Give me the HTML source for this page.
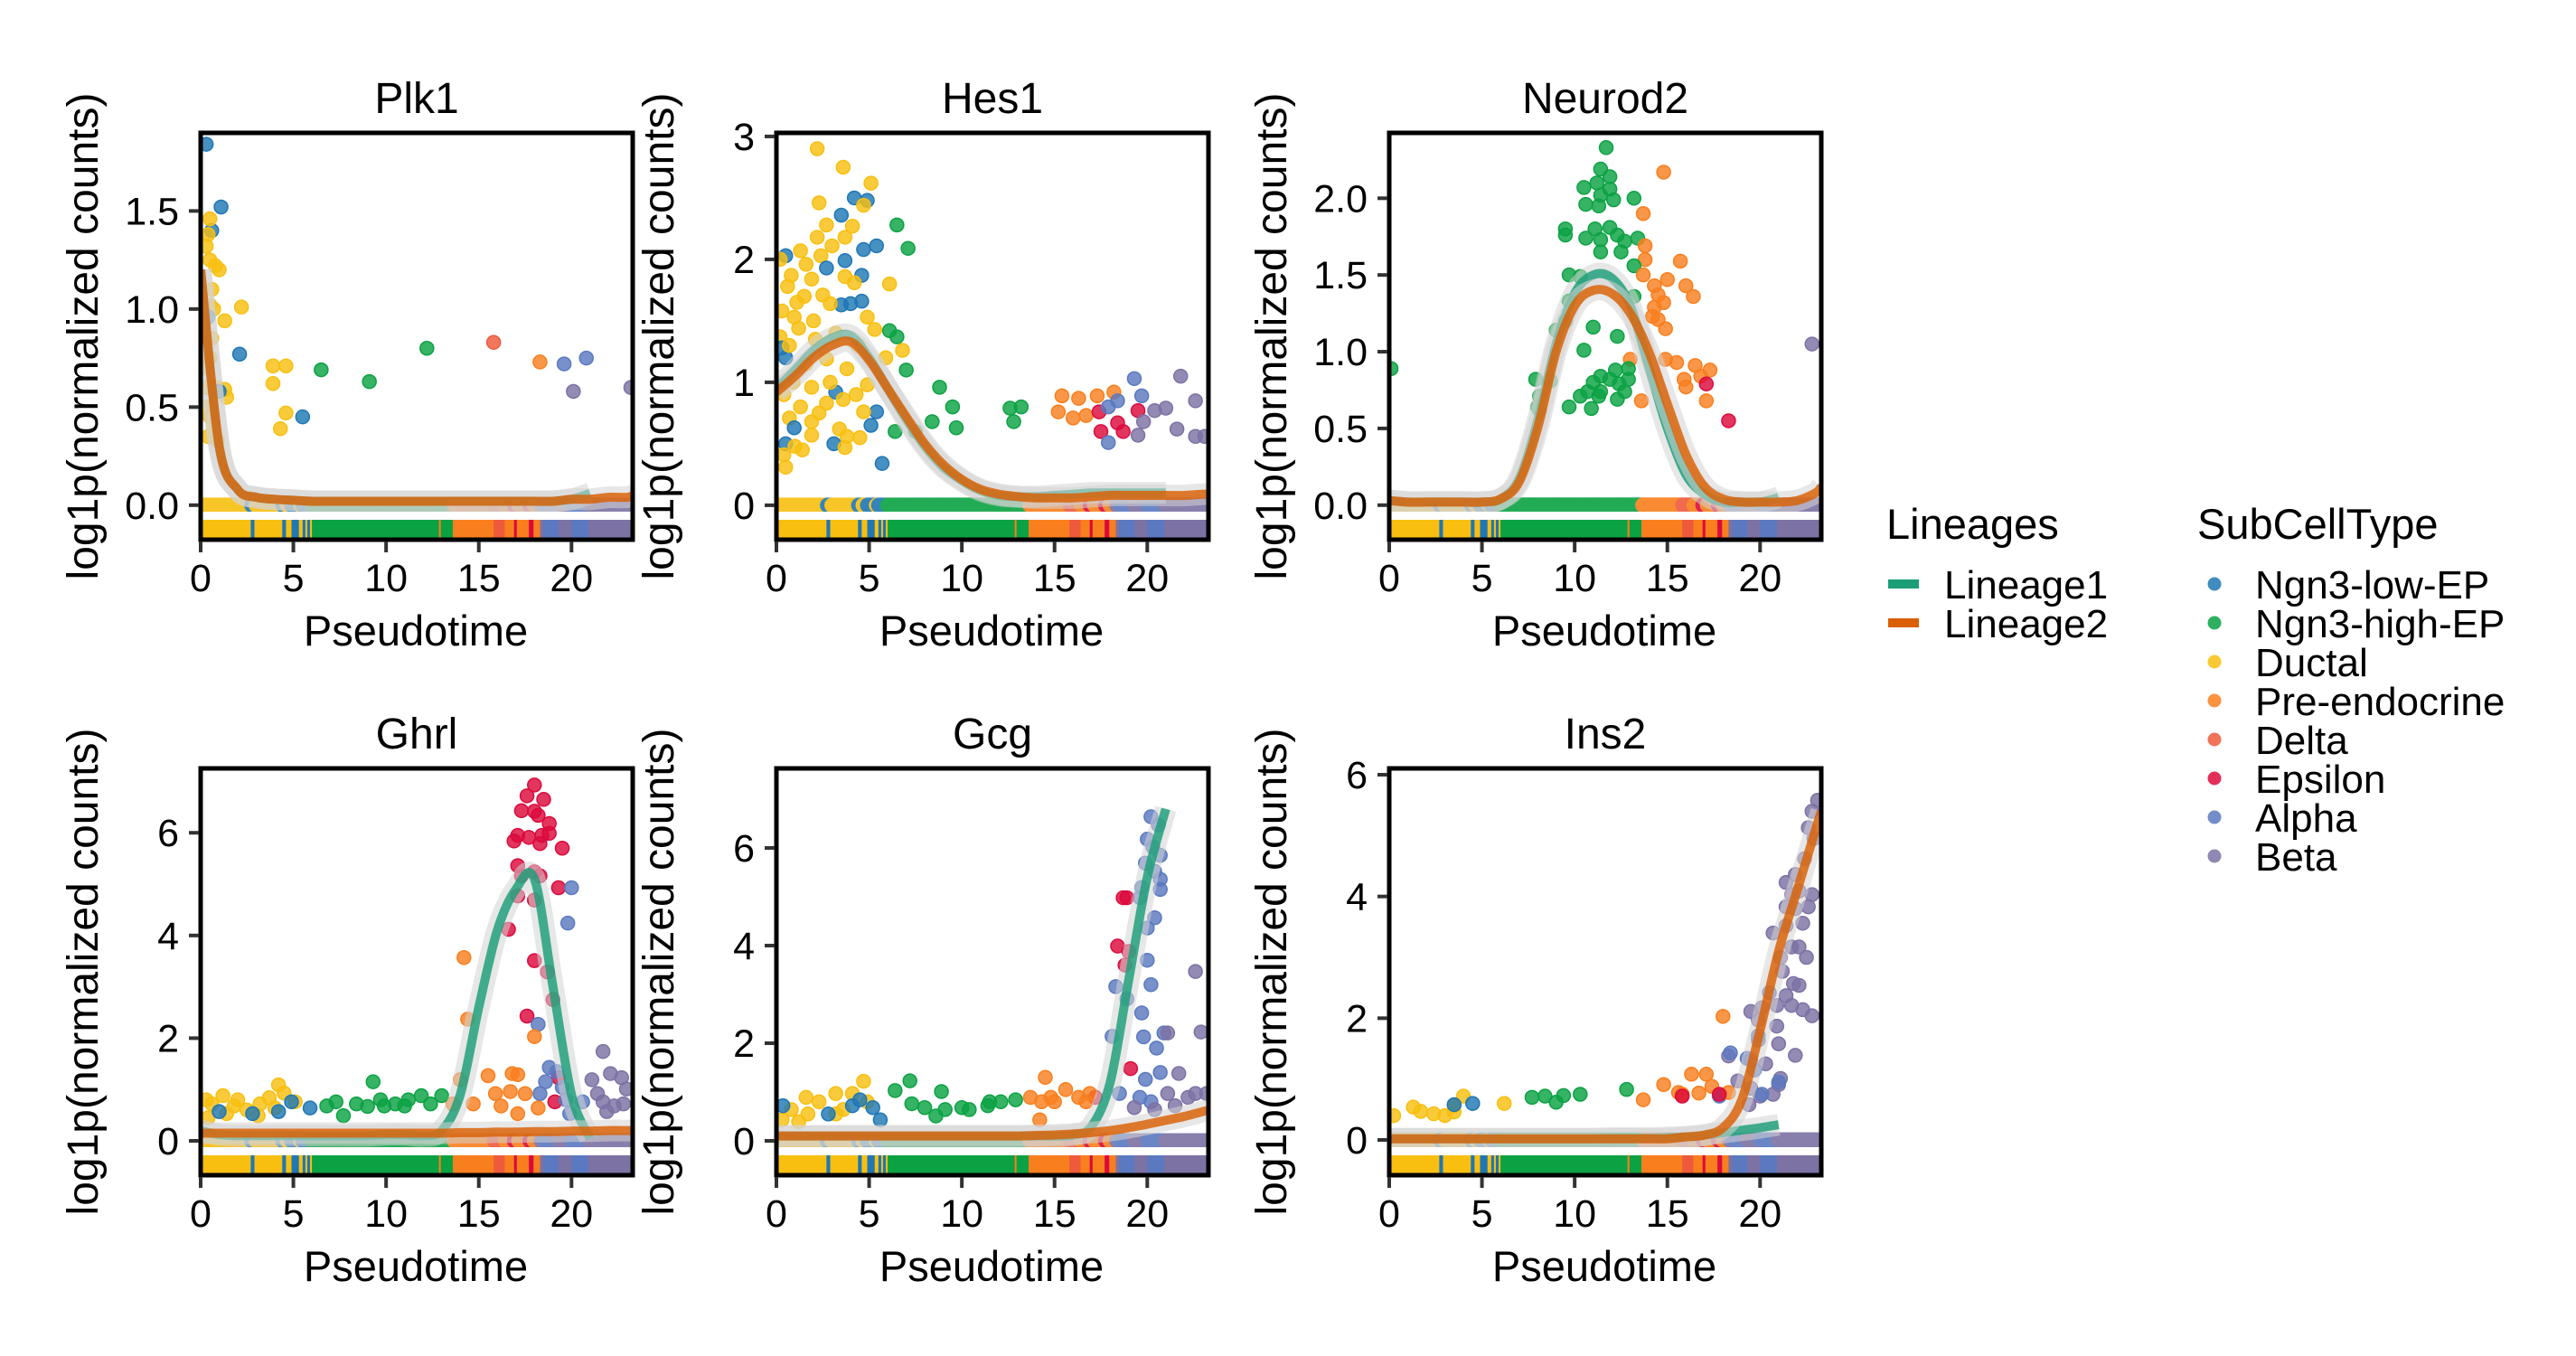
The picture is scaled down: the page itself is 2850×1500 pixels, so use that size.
<!DOCTYPE html>
<html><head><meta charset="utf-8"><style>
html,body{margin:0;padding:0;background:#fff;}
svg{display:block;font-family:"Liberation Sans",Arial,sans-serif;}
</style></head><body>
<svg id="chart" width="2850" height="1500" viewBox="0 0 2850 1500" xmlns="http://www.w3.org/2000/svg">
<rect x="0" y="0" width="2850" height="1500" fill="#fff"/>
<g id="panels"></g>
<g id="legend-lineages">
  <text x="2087" y="596" font-size="47">Lineages</text>
  <rect x="2089" y="641" width="34" height="10" fill="#1b9e77"/>
  <text x="2151" y="662" font-size="44">Lineage1</text>
  <rect x="2089" y="684" width="34" height="10" fill="#d95f02"/>
  <text x="2151" y="705" font-size="44">Lineage2</text>
</g>
<g id="legend-types">
  <text x="2431" y="596" font-size="47">SubCellType</text>
</g>
</svg>
<script>
// ---- categories ----
const typeNames = ['Ngn3-low-EP','Ngn3-high-EP','Ductal','Pre-endocrine','Delta','Epsilon','Alpha','Beta'];
const typeColors = ['#1f77b4','#0ba243','#f8bf10','#f97f1e','#ee5a3c','#dc0a3c','#5b79c0','#7d72a4'];
const tGrid = [0,1,2,3,4,5,6,7,8,9,10,11,12,13,14,15,16,17,18,19,20,21,22,23,23.3];
const xTicks = [0,5,10,15,20];
// rug: cell ordering by pseudotime
const rugStart = [0,2.7,2.9,4.4,4.6,4.9,5.3,5.5,5.65,5.75,5.9,6.0,12.85,12.95,13.6,15.8,16.4,16.9,17.05,17.7,17.95,18.3,18.5,19.3,20.0,20.9];
const rugType  = [2,0,2,0,2,0,2,0,2,0,2,1,3,1,3,4,3,5,3,5,3,7,6,7,6,7];
// ---- per-gene tick values ----
const plk1Ticks=[0,0.5,1,1.5], hes1Ticks=[0,1,2,3], neurod2Ticks=[0,0.5,1,1.5,2], ghrlTicks=[0,2,4,6], gcgTicks=[0,2,4,6], ins2Ticks=[0,2,4,6];
// ---- smoother curves (values on tGrid) ----
const plk1L1=[1.2,0.3,0.08,0.04,0.03,0.025,0.02,0.02,0.02,0.02,0.02,0.02,0.02,0.02,0.02,0.02,0.02,0.02,0.02,0.02,0.03,0.06];
const plk1L2=[1.2,0.3,0.08,0.04,0.03,0.025,0.02,0.02,0.02,0.02,0.02,0.02,0.02,0.02,0.02,0.02,0.02,0.02,0.02,0.02,0.03,0.03,0.04,0.04,0.05];
const hes1L1=[0.95,1.1,1.26,1.36,1.38,1.2,0.95,0.7,0.48,0.31,0.2,0.12,0.08,0.07,0.07,0.08,0.09,0.1,0.1,0.1,0.1,0.1];
const hes1L2=[0.92,1.05,1.2,1.3,1.33,1.18,0.95,0.72,0.5,0.33,0.21,0.13,0.09,0.07,0.06,0.06,0.06,0.07,0.08,0.08,0.08,0.08,0.08,0.09,0.09];
const neurod2L1=[0.03,0.02,0.02,0.02,0.02,0.02,0.04,0.17,0.55,1.05,1.38,1.5,1.48,1.3,0.9,0.5,0.2,0.07,0.02,0.02,0.02,0.05];
const neurod2L2=[0.03,0.02,0.02,0.02,0.02,0.02,0.04,0.15,0.5,1.0,1.3,1.4,1.38,1.25,1.0,0.66,0.33,0.12,0.04,0.02,0.02,0.02,0.03,0.08,0.12];
const ghrlL1=[0.2,0.12,0.1,0.1,0.1,0.1,0.1,0.1,0.1,0.1,0.12,0.12,0.1,0.2,0.9,2.6,4.1,4.9,5.1,3.0,0.9,0.05];
const ghrlL2=[0.15,0.15,0.15,0.15,0.15,0.15,0.15,0.15,0.15,0.15,0.15,0.15,0.15,0.15,0.16,0.16,0.17,0.17,0.18,0.18,0.19,0.19,0.2,0.2,0.2];
const gcgL1=[0.1,0.1,0.1,0.1,0.1,0.1,0.1,0.1,0.1,0.1,0.1,0.1,0.1,0.1,0.1,0.1,0.12,0.3,1.2,3.3,5.4,6.8];
const gcgL2=[0.1,0.1,0.1,0.1,0.1,0.1,0.1,0.1,0.1,0.1,0.1,0.1,0.1,0.1,0.11,0.12,0.14,0.17,0.21,0.27,0.34,0.42,0.5,0.6,0.63];
const ins2L1=[0.02,0.02,0.02,0.02,0.02,0.02,0.02,0.02,0.02,0.02,0.02,0.02,0.03,0.03,0.03,0.04,0.05,0.08,0.12,0.16,0.2,0.25];
const ins2L2=[0.02,0.02,0.02,0.02,0.02,0.02,0.02,0.02,0.02,0.02,0.02,0.02,0.02,0.02,0.02,0.02,0.05,0.08,0.2,0.65,1.8,3.1,4.1,5.1,5.4];
// ---- cells: [pseudotime, expression, typeIndex] ----
const plk1Pts=[[0.3,1.84,0],[1.1,1.52,0],[0.6,1.40,0],[0.5,1.46,2],[0.4,1.38,2],[0.3,1.32,2],[0.5,1.25,2],[0.8,1.22,2],[1.0,1.2,2],[0.6,1.1,2],[0.5,1.02,2],[0.7,1.0,2],[0.4,0.96,0],[1.3,0.94,2],[2.2,1.01,2],[0.6,0.85,2],[0.5,0.75,2],[2.1,0.77,0],[0.3,0.7,2],[0.9,0.6,2],[1.3,0.59,2],[1.4,0.55,2],[1.0,0.58,0],[0.3,0.5,2],[0.5,0.45,2],[0.7,0.4,2],[0.4,0.35,2],[0.9,0.33,2],[0.3,0.6,2],[3.9,0.71,2],[4.6,0.71,2],[3.9,0.62,2],[4.6,0.47,2],[4.3,0.39,2],[5.5,0.45,0],[6.5,0.69,1],[9.1,0.63,1],[12.2,0.8,1],[15.8,0.83,4],[18.3,0.73,3],[19.6,0.72,6],[20.8,0.75,6],[20.1,0.58,7],[23.2,0.6,7]];
const hes1Pts=[[2.2,2.9,2],[3.6,2.75,2],[5.1,2.62,2],[2.3,2.46,2],[4.2,2.5,0],[4.9,2.48,0],[4.7,2.44,2],[3.5,2.36,0],[2.7,2.28,2],[4.1,2.27,2],[6.5,2.28,1],[7.1,2.09,1],[5.4,2.11,0],[4.7,2.08,0],[2.2,2.18,2],[3.7,2.18,2],[3.0,2.11,2],[1.3,2.07,2],[0.5,2.03,0],[0.2,2.0,2],[3.7,1.99,0],[2.4,2.03,2],[1.6,1.96,2],[2.7,1.93,0],[4.6,1.87,0],[0.8,1.87,2],[1.9,1.84,2],[3.7,1.86,2],[4.2,1.81,2],[6.1,1.8,2],[0.6,1.78,2],[2.5,1.71,2],[1.5,1.7,2],[3.5,1.63,0],[4.0,1.64,0],[4.6,1.66,0],[2.9,1.64,2],[0.3,1.58,2],[0.96,1.53,2],[4.9,1.53,2],[1.2,1.44,2],[5.3,1.43,2],[6.1,1.42,1],[6.5,1.37,1],[0.2,1.37,2],[6.8,1.26,2],[0.3,1.28,0],[0.5,1.2,0],[2.7,1.19,2],[3.8,1.11,2],[7.0,1.1,1],[0.9,1.0,2],[1.9,0.96,2],[4.9,0.98,2],[8.8,0.96,1],[3.2,0.92,0],[3.6,0.86,2],[2.7,0.83,2],[5.4,0.76,0],[4.7,0.76,2],[1.3,0.8,2],[0.7,0.71,2],[9.5,0.8,1],[12.6,0.79,1],[13.2,0.8,1],[1.9,0.68,2],[0.96,0.63,0],[8.4,0.68,1],[9.7,0.63,1],[12.8,0.68,1],[5.1,0.65,0],[7.5,0.6,1],[6.4,0.6,1],[1.9,0.57,2],[3.8,0.56,2],[0.5,0.5,0],[3.1,0.5,0],[1.4,0.45,2],[0.4,0.41,2],[3.7,0.47,2],[0.5,0.31,2],[5.7,0.34,0],[15.4,0.89,3],[16.3,0.87,3],[17.3,0.89,3],[18.2,0.92,3],[15.2,0.76,3],[16.0,0.71,3],[16.7,0.73,3],[17.4,0.76,5],[17.9,0.8,6],[18.4,0.85,6],[19.3,1.03,6],[19.7,0.89,6],[19.5,0.77,5],[18.4,0.67,5],[17.5,0.6,5],[18.7,0.6,5],[17.9,0.51,6],[19.5,0.57,7],[19.8,0.68,7],[20.4,0.77,7],[21.0,0.79,7],[21.8,1.05,7],[22.6,0.85,7],[21.6,0.62,7],[22.6,0.56,7],[23.1,0.56,7],[1.1,1.65,2],[2.0,1.5,2],[3.2,1.4,2],[4.4,1.3,2],[0.7,1.3,2],[1.6,1.15,2],[2.9,1.0,2],[4.3,0.9,2],[5.9,1.2,2],[0.4,0.9,2],[2.3,0.75,2],[3.4,0.62,2],[4.5,0.55,2],[1.0,0.48,2],[2.1,1.35,2]];
const neurod2Pts=[[11.7,2.33,1],[11.4,2.19,1],[11.2,2.1,1],[10.5,2.07,1],[11.9,2.14,1],[11.9,2.06,1],[11.4,2.02,1],[12.1,1.99,1],[10.6,1.96,1],[11.3,1.95,1],[13.2,2.0,1],[14.8,2.17,3],[13.7,1.9,3],[9.5,1.8,1],[9.5,1.76,1],[11.1,1.8,1],[11.9,1.81,1],[12.3,1.76,1],[10.6,1.74,1],[11.4,1.73,1],[12.7,1.72,1],[13.4,1.74,1],[13.8,1.69,3],[11.4,1.65,1],[12.5,1.65,1],[13.8,1.6,3],[15.7,1.59,3],[13.2,1.56,1],[9.7,1.5,1],[10.3,1.49,1],[13.7,1.5,3],[15.0,1.47,3],[14.3,1.43,3],[16.0,1.43,3],[14.5,1.37,3],[16.4,1.36,3],[9.7,1.33,1],[13.2,1.36,1],[14.3,1.29,3],[14.8,1.32,3],[14.2,1.23,3],[9.5,1.2,1],[14.5,1.21,3],[14.9,1.15,3],[9.0,1.14,1],[11.0,1.16,1],[12.3,1.1,1],[10.5,1.01,1],[13.0,0.95,3],[14.9,0.95,3],[15.5,0.93,3],[16.5,0.91,3],[17.3,0.88,3],[16.8,0.84,3],[15.9,0.82,3],[17.1,0.79,5],[16.0,0.77,3],[12.2,0.88,1],[12.9,0.89,1],[11.4,0.84,1],[11.9,0.82,1],[12.4,0.79,1],[12.9,0.82,1],[11.0,0.8,1],[7.9,0.82,1],[8.7,0.81,1],[10.7,0.74,1],[11.4,0.74,1],[10.3,0.71,1],[11.3,0.71,1],[12.3,0.69,1],[12.7,0.74,1],[8.1,0.71,1],[8.0,0.64,1],[9.7,0.64,1],[10.9,0.63,1],[8.1,0.62,1],[13.6,0.68,3],[17.1,0.68,3],[18.3,0.55,5],[22.8,1.05,7],[0.1,0.89,1]];
const ghrlPts=[[18.0,6.93,5],[17.6,6.72,5],[18.5,6.65,5],[17.3,6.43,5],[18.0,6.42,5],[18.2,6.34,5],[18.8,6.18,5],[17.1,5.95,5],[17.7,5.91,5],[18.4,5.95,5],[18.8,5.99,5],[16.9,5.84,5],[19.5,5.7,5],[18.3,5.79,5],[17.1,5.36,5],[18.0,5.24,5],[17.3,5.16,5],[18.3,5.16,5],[19.3,4.93,5],[17.1,4.77,5],[18.0,4.69,5],[16.6,4.12,5],[18.0,3.51,5],[18.7,3.29,5],[19.0,2.75,5],[17.6,2.43,5],[19.3,1.23,5],[19.1,0.76,5],[20.0,4.93,6],[19.8,4.24,6],[18.2,2.27,6],[18.8,1.43,6],[19.2,1.35,6],[18.6,1.15,6],[19.5,1.04,6],[18.3,0.92,6],[19.7,0.8,6],[19.9,0.53,6],[20.6,0.76,6],[21.7,1.74,7],[21.1,1.19,7],[22.1,1.31,7],[22.7,1.23,7],[22.96,1.01,7],[21.7,0.76,7],[22.3,0.68,7],[22.8,0.72,7],[21.9,0.57,7],[21.4,0.92,7],[14.2,3.57,3],[14.4,2.37,3],[18.0,2.03,3],[15.5,1.27,3],[16.8,1.31,3],[17.1,1.29,3],[14.0,1.19,3],[15.9,0.92,3],[16.7,0.96,3],[17.5,0.92,3],[14.7,0.72,3],[16.2,0.68,3],[18.2,0.64,3],[13.6,0.72,3],[17.1,0.53,3],[9.3,1.15,1],[13.0,0.88,1],[11.9,0.88,1],[11.2,0.8,1],[10.5,0.72,1],[9.9,0.68,1],[9.0,0.67,1],[8.4,0.72,1],[7.3,0.76,1],[6.8,0.68,1],[7.7,0.49,1],[12.4,0.72,1],[9.7,0.8,1],[11.0,0.68,1],[1.2,0.88,2],[2.0,0.8,2],[0.6,0.72,2],[0.3,0.8,2],[4.2,1.09,2],[4.5,0.93,2],[3.7,0.84,2],[3.2,0.72,2],[2.5,0.6,2],[1.4,0.53,2],[0.4,0.45,2],[3.1,0.49,2],[5.1,0.76,2],[4.0,0.64,2],[1.8,0.68,2],[5.9,0.64,0],[4.9,0.76,0],[2.8,0.53,0],[1.0,0.57,0],[4.2,0.57,0]];
const gcgPts=[[20.2,6.64,6],[20.6,6.47,6],[20.0,6.18,6],[20.3,6.02,6],[20.7,5.85,6],[19.9,5.69,6],[20.4,5.52,6],[20.7,5.36,6],[19.7,5.19,6],[20.7,5.15,6],[19.6,4.98,6],[18.7,4.98,5],[18.9,4.98,5],[20.4,4.57,6],[20.0,4.36,6],[18.4,3.99,5],[19.0,3.88,5],[18.8,3.6,5],[20.0,3.7,6],[18.3,3.16,6],[20.2,3.2,6],[18.9,2.91,6],[19.7,2.62,6],[18.1,2.14,6],[19.8,2.13,6],[20.9,2.21,6],[20.5,1.9,6],[19.1,1.48,5],[19.9,1.26,6],[20.7,1.4,6],[18.5,0.97,6],[19.6,0.89,6],[20.2,0.8,6],[22.6,3.47,7],[22.9,2.23,7],[21.1,2.21,7],[21.7,1.38,7],[21.1,0.97,7],[22.2,0.89,7],[22.6,0.97,7],[21.5,0.72,7],[23.2,0.97,7],[19.3,0.68,7],[20.4,0.64,7],[17.2,0.89,5],[14.5,1.3,3],[15.6,1.05,3],[13.7,0.89,3],[14.3,0.8,3],[15.0,0.8,3],[16.3,0.89,3],[16.9,0.97,3],[16.7,0.8,3],[14.2,0.43,3],[14.8,0.89,3],[7.2,1.23,1],[6.4,1.03,1],[8.9,1.01,1],[7.3,0.76,1],[8.0,0.68,1],[9.1,0.64,1],[10.0,0.68,1],[10.4,0.64,1],[11.5,0.8,1],[12.1,0.8,1],[12.9,0.84,1],[11.4,0.72,1],[8.6,0.51,1],[4.7,1.22,2],[3.2,0.97,2],[4.1,0.97,2],[1.6,0.89,2],[2.3,0.8,2],[0.8,0.64,2],[1.7,0.55,2],[0.3,0.43,2],[3.6,0.64,2],[3.2,0.55,2],[1.2,0.39,2],[4.9,0.8,2],[4.1,0.72,0],[5.2,0.68,0],[2.8,0.55,0],[5.6,0.43,0],[0.35,0.72,0],[4.5,0.84,0]];
const ins2Pts=[[23.1,5.58,7],[22.8,5.4,7],[22.6,5.13,7],[22.9,4.95,7],[22.4,4.62,7],[21.9,4.36,7],[21.4,4.23,7],[21.7,4.03,7],[22.1,4.09,7],[22.8,4.03,7],[21.4,3.83,7],[21.9,3.8,7],[22.6,3.83,7],[22.3,3.56,7],[21.4,3.52,7],[20.7,3.4,7],[22.1,3.17,7],[21.7,3.17,7],[22.5,3.0,7],[21.1,3.0,7],[21.2,2.77,7],[21.8,2.57,7],[22.1,2.54,7],[21.4,2.37,7],[20.9,2.21,7],[21.7,2.21,7],[22.3,2.14,7],[22.8,2.04,7],[20.1,2.17,7],[19.5,2.11,7],[19.9,1.97,7],[20.9,1.87,7],[19.9,1.64,7],[21.0,1.58,7],[21.9,1.39,7],[18.3,1.38,7],[19.5,1.31,7],[20.3,1.25,7],[21.1,1.01,7],[18.8,0.97,7],[19.5,0.85,7],[20.7,0.75,7],[20.0,0.72,7],[19.4,0.58,7],[21.0,0.91,7],[20.5,2.42,6],[19.9,1.71,6],[18.4,1.43,6],[19.3,1.34,6],[19.7,1.15,6],[21.0,0.95,6],[20.1,0.75,6],[17.8,0.72,6],[18.0,2.03,3],[14.8,0.91,3],[13.7,0.66,3],[16.3,1.08,3],[17.1,1.08,3],[17.4,0.88,3],[15.6,0.78,3],[16.7,0.77,3],[18.3,0.78,3],[15.8,0.75,3],[17.8,0.75,5],[15.8,0.72,5],[7.7,0.7,1],[8.4,0.72,1],[9.0,0.62,1],[9.4,0.73,1],[10.3,0.75,1],[12.8,0.83,1],[0.24,0.4,2],[1.3,0.54,2],[1.7,0.47,2],[2.4,0.43,2],[3.0,0.4,2],[3.5,0.46,2],[4.0,0.72,2],[6.2,0.6,2],[3.5,0.56,2],[4.5,0.6,0],[3.5,0.58,0]];

// ---- layout (not data) ----
const panels=[
 {id:'plk1',title:'Plk1',left:222,top:147,ymin:-0.176,ymax:1.898,ticks:plk1Ticks,dec:1,pts:plk1Pts,l1:plk1L1,l2:plk1L2,ytx:93},
 {id:'hes1',title:'Hes1',left:859,top:147,ymin:-0.28,ymax:3.029,ticks:hes1Ticks,dec:0,pts:hes1Pts,l1:hes1L1,l2:hes1L2,ytx:730},
 {id:'neurod2',title:'Neurod2',left:1537,top:147,ymin:-0.225,ymax:2.426,ticks:neurod2Ticks,dec:1,pts:neurod2Pts,l1:neurod2L1,l2:neurod2L2,ytx:1408},
 {id:'ghrl',title:'Ghrl',left:222,top:850,ymin:-0.669,ymax:7.254,ticks:ghrlTicks,dec:0,pts:ghrlPts,l1:ghrlL1,l2:ghrlL2,ytx:93},
 {id:'gcg',title:'Gcg',left:859,top:850,ymin:-0.704,ymax:7.63,ticks:gcgTicks,dec:0,pts:gcgPts,l1:gcgL1,l2:gcgL2,ytx:730},
 {id:'ins2',title:'Ins2',left:1537,top:850,ymin:-0.579,ymax:6.104,ticks:ins2Ticks,dec:0,pts:ins2Pts,l1:ins2L1,l2:ins2L2,ytx:1408}
];
const PW=478, PH=450, TMAX=23.3;
const NS='http://www.w3.org/2000/svg';
function mk(tag,attrs,parent){const e=document.createElementNS(NS,tag);for(const k in attrs)e.setAttribute(k,attrs[k]);parent.appendChild(e);return e;}
function rugTypeAt(t){let k=0;for(let i=0;i<rugStart.length;i++){if(rugStart[i]<=t)k=i;}return rugType[k];}
function crPath(p){let d='M'+p[0][0].toFixed(1)+','+p[0][1].toFixed(1);for(let i=0;i<p.length-1;i++){const p0=p[i-1]||p[i],p1=p[i],p2=p[i+1],p3=p[i+2]||p2;const c1x=p1[0]+(p2[0]-p0[0])/6,c1y=p1[1]+(p2[1]-p0[1])/6,c2x=p2[0]-(p3[0]-p1[0])/6,c2y=p2[1]-(p3[1]-p1[1])/6;d+=' C'+c1x.toFixed(1)+','+c1y.toFixed(1)+' '+c2x.toFixed(1)+','+c2y.toFixed(1)+' '+p2[0].toFixed(1)+','+p2[1].toFixed(1);}return d;}
const root=document.getElementById('panels');
const defs=mk('defs',{},root);
panels.forEach(P=>{
  const xs=t=>P.left+t/TMAX*PW;
  const bottom=P.top+PH;
  const ys=v=>bottom-(v-P.ymin)/(P.ymax-P.ymin)*PH;
  const g=mk('g',{},root);
  
  
  const cp=mk('clipPath',{id:'clip-'+P.id},defs);
  mk('rect',{x:P.left,y:P.top,width:PW,height:PH},cp);
  const plot=mk('g',{'clip-path':'url(#clip-'+P.id+')'},g);
  const zg=mk('g',{opacity:0.9},plot);
  
  
  for(let t=0;t<=TMAX;t+=0.12){mk('circle',{cx:xs(t),cy:ys(0),r:8.5,fill:typeColors[rugTypeAt(t)]},zg);}
  const pg=mk('g',{},plot);
  
  
  P.pts.forEach(d=>{const c=mk('circle',{cx:xs(d[0]),cy:ys(d[1]),r:7.5,fill:typeColors[d[2]],'fill-opacity':0.82,stroke:typeColors[d[2]],'stroke-width':1.5},pg);
    
    });
  [[P.l1,'#1b9e77','lineage1'],[P.l2,'#d95f02','lineage2']].forEach(([arr,col,nm])=>{
    const pp=arr.map((v,i)=>[xs(Math.min(tGrid[i],TMAX)),ys(v)]);
    const d=crPath(pp);
    const rib=mk('path',{d:d,fill:'none',stroke:'#d3d3d3','stroke-opacity':0.55,'stroke-width':24,'stroke-linecap':'butt'},plot);
    
    
    const ln=mk('path',{d:d,fill:'none',stroke:col,'stroke-opacity':0.82,'stroke-width':10,'stroke-linecap':'butt'},plot);
    
    
  });
  mk('rect',{x:P.left,y:bottom-31,width:PW,height:9,fill:'#fff'},plot);
  const rg=mk('g',{},plot);
  
  
  rugStart.forEach((s,i)=>{const e=i+1<rugStart.length?rugStart[i+1]:TMAX;
    mk('rect',{x:xs(s),y:bottom-22,width:Math.max(0,xs(e)-xs(s))+0.5,height:22,fill:typeColors[rugType[i]]},rg);});
  const br=mk('rect',{x:P.left,y:P.top,width:PW,height:PH,fill:'none',stroke:'#000','stroke-width':5},g);
  
  
  const ti=mk('text',{x:P.left+PW/2,y:P.top-22,'font-size':48,'text-anchor':'middle'},g);
  ti.textContent=P.title;
  
  
  P.ticks.forEach(v=>{const y=ys(v);
    mk('line',{x1:P.left-13,x2:P.left-2,y1:y,y2:y,stroke:'#333','stroke-width':4},g);
    const tl=mk('text',{x:P.left-24,y:y+15,'font-size':43,'text-anchor':'end'},g);
    tl.textContent=v.toFixed(P.dec);
    
    });
  xTicks.forEach(t=>{const x=xs(t);
    mk('line',{x1:x,x2:x,y1:bottom+2,y2:bottom+14,stroke:'#333','stroke-width':4},g);
    const tl=mk('text',{x:x,y:bottom+57,'font-size':43,'text-anchor':'middle'},g);
    tl.textContent=String(t);
    
    });
  const xt=mk('text',{x:P.left+PW/2-1,y:bottom+117,'font-size':47,'text-anchor':'middle'},g);
  xt.textContent='Pseudotime';
  
  
  const cy=P.top+PH/2;
  const yt=mk('text',{x:P.ytx,y:cy+15,'font-size':48,'text-anchor':'middle',transform:'rotate(-90 '+P.ytx+' '+cy+')'},g);
  yt.textContent='log1p(normalized counts)';
  
  
});
const lt=document.getElementById('legend-types');
typeNames.forEach((n,i)=>{
  const c=mk('circle',{cx:2450,cy:646+43*i,r:7.5,fill:typeColors[i],'fill-opacity':0.85},lt);
  
  
  const t=mk('text',{x:2495,y:662+43*i,'font-size':44},lt);
  t.textContent=n;
  
  
});
</script>
</body></html>
